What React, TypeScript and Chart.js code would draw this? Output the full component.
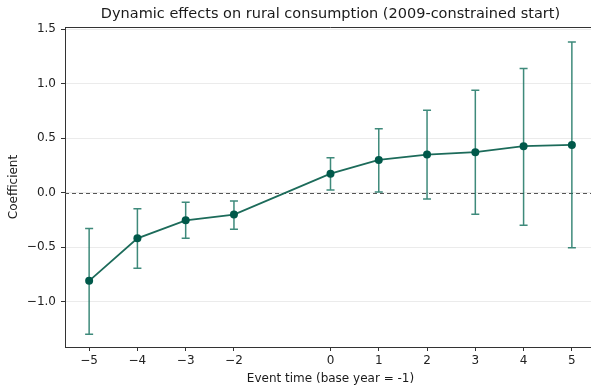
import React, { useEffect, useRef } from "react";
import { Chart, registerables } from "chart.js";

Chart.register(...registerables);

const eventTimes = [-5, -4, -3, -2, 0, 1, 2, 3, 4, 5];
const coefficients = [-0.81, -0.42, -0.254, -0.202, 0.174, 0.3, 0.349, 0.371, 0.426, 0.438];
const ciLower = [-1.3, -0.694, -0.419, -0.336, 0.025, 0.006, -0.058, -0.198, -0.3, -0.505];
const ciUpper = [-0.33, -0.147, -0.089, -0.076, 0.321, 0.587, 0.756, 0.94, 1.14, 1.383];
const xTickValues = [-5, -4, -3, -2, 0, 1, 2, 3, 4, 5];
const yTickValues = [-1.0, -0.5, 0.0, 0.5, 1.0, 1.5];

const titleText = "Dynamic effects on rural consumption (2009-constrained start)";
const xLabel = "Event time (base year = -1)";
const yLabel = "Coefficient";

const FONT = "'DejaVu Sans', sans-serif";
const fmtMinus = (s: string) => s.replace("-", "\u2212");

const overlayPlugin = {
  id: "overlay",
  beforeDatasetsDraw(chart: any) {
    const { ctx, chartArea, scales } = chart;
    const xs = scales.x;
    const ys = scales.y;
    ctx.save();
    // zero dashed line
    const y0 = Math.round(ys.getPixelForValue(0)) + 0.5;
    ctx.strokeStyle = "#555555";
    ctx.lineWidth = 1;
    ctx.setLineDash([4, 3]);
    ctx.beginPath();
    ctx.moveTo(chartArea.left, y0);
    ctx.lineTo(chartArea.right, y0);
    ctx.stroke();
    ctx.setLineDash([]);
    // error bars
    ctx.strokeStyle = "rgba(28,118,100,0.85)";
    ctx.lineWidth = 1.5;
    for (let i = 0; i < eventTimes.length; i++) {
      const px = xs.getPixelForValue(eventTimes[i]);
      const pTop = ys.getPixelForValue(ciUpper[i]);
      const pBot = ys.getPixelForValue(ciLower[i]);
      ctx.beginPath();
      ctx.moveTo(px, pTop);
      ctx.lineTo(px, pBot);
      ctx.moveTo(px - 4, pTop);
      ctx.lineTo(px + 4, pTop);
      ctx.moveTo(px - 4, pBot);
      ctx.lineTo(px + 4, pBot);
      ctx.stroke();
    }
    ctx.restore();
  },
  afterDraw(chart: any) {
    const { ctx, chartArea } = chart;
    ctx.save();
    // top spine
    ctx.strokeStyle = "#333333";
    ctx.lineWidth = 1;
    ctx.beginPath();
    ctx.moveTo(chartArea.left, Math.round(chartArea.top) + 0.5);
    ctx.lineTo(chartArea.right, Math.round(chartArea.top) + 0.5);
    ctx.stroke();
    const cx = (chartArea.left + chartArea.right) / 2;
    ctx.fillStyle = "#1a1a1a";
    ctx.textAlign = "center";
    ctx.textBaseline = "middle";
    ctx.font = `14.5px ${FONT}`;
    ctx.fillText(titleText, cx, 14);
    ctx.font = `12px ${FONT}`;
    ctx.fillText(xLabel, cx, 379);
    ctx.translate(14, (chartArea.top + chartArea.bottom) / 2);
    ctx.rotate(-Math.PI / 2);
    ctx.fillText(yLabel, 0, 0);
    ctx.restore();
  },
};

export default function App() {
  const canvasRef = useRef<HTMLCanvasElement | null>(null);

  useEffect(() => {
    document.body.style.margin = "0";
    const canvas = canvasRef.current;
    if (!canvas) return;
    const chart = new Chart(canvas, {
      type: "line",
      data: {
        datasets: [
          {
            data: eventTimes.map((x, i) => ({ x, y: coefficients[i] })),
            borderColor: "#1c6b5a",
            borderWidth: 1.8,
            pointRadius: 4,
            pointHoverRadius: 4,
            pointBackgroundColor: "#00594a",
            pointBorderColor: "#00594a",
            pointBorderWidth: 0,
            tension: 0,
            fill: false,
          },
        ],
      },
      options: {
        responsive: false,
        animation: false,
        devicePixelRatio: 1,
        layout: { padding: { top: 27, right: 0, bottom: 0, left: 0 } },
        plugins: {
          legend: { display: false },
          title: { display: false },
          tooltip: { enabled: false },
        },
        scales: {
          x: {
            type: "linear",
            min: -5.5,
            max: 5.5,
            afterBuildTicks: (scale: any) => {
              scale.ticks = xTickValues.map((v) => ({ value: v }));
            },
            afterFit: (scale: any) => {
              scale.height = 41;
            },
            grid: {
              drawOnChartArea: false,
              drawTicks: true,
              tickLength: 4,
              tickColor: "#333333",
            },
            border: { display: true, color: "#333333", width: 1 },
            ticks: {
              autoSkip: false,
              maxRotation: 0,
              padding: 3,
              color: "#222222",
              font: { family: FONT, size: 12 },
              callback: (v: any) => fmtMinus(String(v)),
            },
          },
          y: {
            type: "linear",
            min: -1.417,
            max: 1.52,
            afterBuildTicks: (scale: any) => {
              scale.ticks = yTickValues.map((v) => ({ value: v }));
            },
            afterFit: (scale: any) => {
              scale.width = 65;
            },
            grid: {
              color: "#ebebeb",
              lineWidth: 1,
              drawTicks: true,
              tickLength: 4,
              tickColor: "#333333",
            },
            border: { display: true, color: "#333333", width: 1 },
            ticks: {
              padding: 5,
              color: "#222222",
              font: { family: FONT, size: 12 },
              callback: (v: any) => fmtMinus(Number(v).toFixed(1)),
            },
          },
        },
      },
      plugins: [overlayPlugin],
    });
    return () => chart.destroy();
  }, []);

  return (
    <div
      style={{
        position: "fixed",
        left: 0,
        top: 0,
        width: 591,
        height: 388,
        overflow: "hidden",
        background: "#ffffff",
      }}
    >
      <canvas ref={canvasRef} width={600} height={388} style={{ display: "block" }} />
    </div>
  );
}
